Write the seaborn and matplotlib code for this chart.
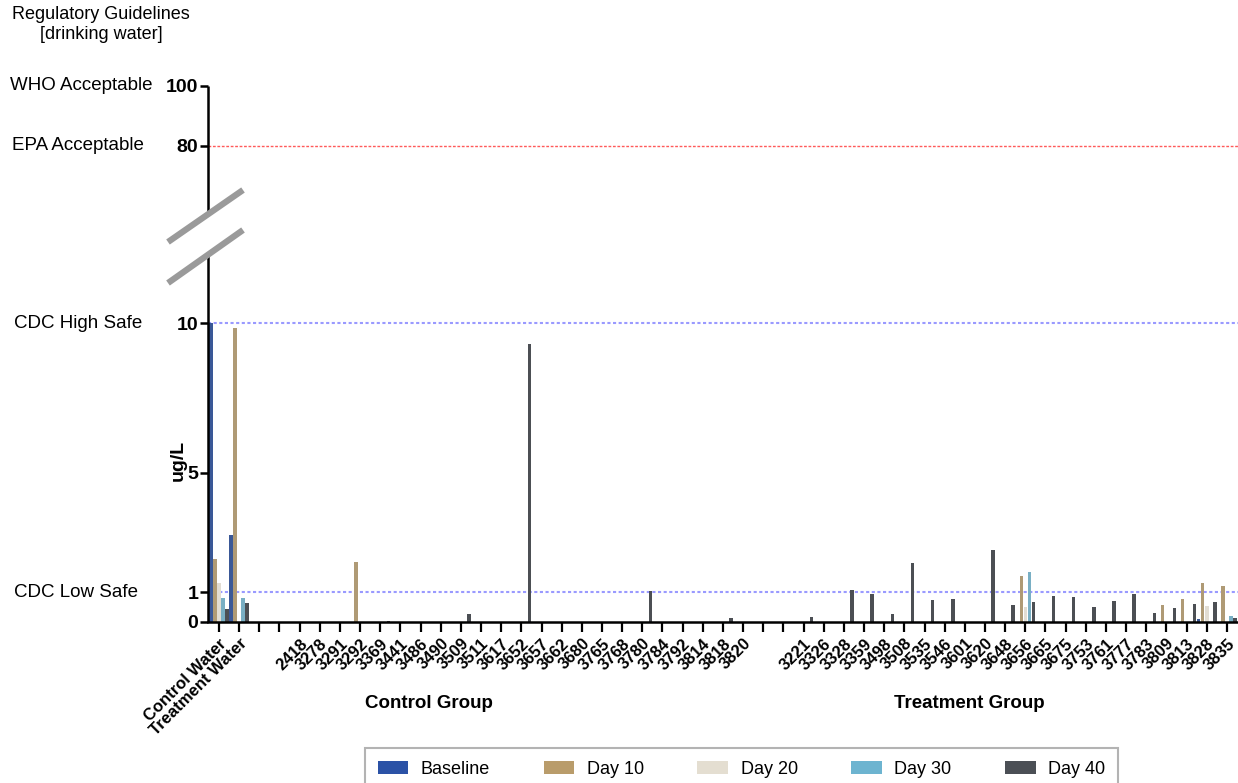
import numpy as np
import pandas as pd
import seaborn as sns
import matplotlib.pyplot as plt
import matplotlib.transforms as mtrans
from matplotlib.lines import Line2D
from matplotlib.patches import Patch

# ---------------- data ----------------
water_labels = ["Control Water", "Treatment Water"]
control_labels = ["2418", "3278", "3291", "3292", "3369", "3441", "3486", "3490",
                  "3509", "3511", "3617", "3652", "3657", "3662", "3680", "3765",
                  "3768", "3780", "3784", "3792", "3814", "3818", "3820"]
treatment_labels = ["3221", "3326", "3328", "3359", "3498", "3508", "3535", "3546",
                    "3601", "3620", "3648", "3656", "3665", "3675", "3753", "3761",
                    "3777", "3783", "3809", "3813", "3828", "3835"]
gap = ["", ""]
categories = water_labels + gap + control_labels + gap + treatment_labels

series_names = ["Baseline", "Day 10", "Day 20", "Day 30", "Day 40"]
series_colors = ["#2b52a6", "#b99c6b", "#e4ded1", "#6db4d0", "#4b4f55"]

# values (ug/L): water (2) | gap (2) | control (23) | gap (2) | treatment (22)
baseline = ([10.0, 2.9] + [0, 0] +
            [0, 0, 0, 0, 0, 0, 0, 0, 0, 0, 0, 0, 0, 0, 0, 0, 0, 0, 0, 0, 0, 0, 0] + [0, 0] +
            [0, 0, 0, 0, 0, 0, 0, 0, 0, 0, 0, 0, 0, 0, 0, 0, 0, 0, 0, 0, 0.1, 0])
day10 = ([2.1, 9.83] + [0, 0] +
         [0, 0, 0, 2.0, 0, 0, 0, 0, 0, 0, 0, 0, 0, 0, 0, 0, 0, 0, 0, 0, 0, 0, 0] + [0, 0] +
         [0, 0, 0, 0, 0, 0, 0, 0, 0, 0, 0, 1.53, 0, 0, 0, 0, 0, 0, 0.58, 0.77, 1.3, 1.19])
day20 = ([1.3, 0] + [0, 0] +
         [0, 0, 0, 0, 0, 0, 0, 0, 0, 0, 0, 0, 0, 0, 0, 0, 0, 0, 0, 0, 0, 0, 0] + [0, 0] +
         [0, 0, 0, 0, 0, 0, 0, 0, 0, 0, 0, 0.5, 0, 0, 0, 0, 0, 0, 0, 0, 0.55, 0])
day30 = ([0.8, 0.8] + [0, 0] +
         [0, 0, 0, 0, 0, 0, 0, 0, 0, 0, 0, 0, 0, 0, 0, 0, 0, 0, 0, 0, 0, 0, 0] + [0, 0] +
         [0, 0, 0, 0, 0, 0, 0, 0, 0, 0, 0, 1.66, 0, 0, 0, 0, 0, 0, 0, 0, 0, 0.19])
day40 = ([0.45, 0.63] + [0, 0] +
         [0, 0, 0, 0, 0.05, 0, 0, 0, 0.28, 0, 0, 9.3, 0, 0, 0, 0, 0, 1.05, 0, 0, 0, 0.15, 0] + [0, 0] +
         [0.17, 0, 1.06, 0.93, 0.28, 1.97, 0.72, 0.78, 0, 2.4, 0.58, 0.67, 0.87, 0.84,
          0.5, 0.71, 0.92, 0.31, 0.47, 0.61, 0.68, 0.15])

yticks = [0, 1, 5, 10, 80, 100]
guideline_values = [100, 80, 10, 1]
guideline_names = ["WHO Acceptable", "EPA Acceptable", "CDC High Safe", "CDC Low Safe"]

# ---------------- frame ----------------
cat_keys = [c if c else f"_gap{i}" for i, c in enumerate(categories)]
all_series = [baseline, day10, day20, day30, day40]
rows = []
for name, vals in zip(series_names, all_series):
    for k, v in zip(cat_keys, vals):
        rows.append({"sample": k, "series": name, "value": v})
df = pd.DataFrame(rows)

sns.set_theme(style="white")
plt.rcParams['font.family'] = ['Liberation Sans', 'DejaVu Sans']
plt.rcParams['text.color'] = 'black'
plt.rcParams['axes.labelcolor'] = 'black'
plt.rcParams['xtick.color'] = 'black'
plt.rcParams['ytick.color'] = 'black'

W, H = 1238, 783
fig = plt.figure(figsize=(W / 100, H / 100), dpi=100)
ax = fig.add_axes([208 / W, 1 - 622 / H, (W - 208) / W, 536 / H])

sns.barplot(data=df, x="sample", y="value", hue="series", order=cat_keys,
            hue_order=series_names, palette=series_colors, width=1.0, gap=0.12,
            linewidth=0, legend=False, errorbar=None, ax=ax)

# broken (piecewise linear) y scale
src = [0, 10, 80, 100]
dst = [0, 299, 476, 536]
fwd = lambda y: np.interp(np.asarray(y, dtype=float), src, dst)
inv = lambda t: np.interp(np.asarray(t, dtype=float), dst, src)
ax.set_yscale("function", functions=(fwd, inv))
ax.set_ylim(0, 100)
ax.set_xlim(-0.546, len(categories) - 0.45)

# guideline lines
ax.axhline(80, color="#ff5a5a", lw=1.0, ls=(0, (2, 1.2)), zorder=0)
ax.axhline(10, color="#9a9aff", lw=1.5, ls=(0, (1.5, 1.2)), zorder=0)
ax.axhline(1, color="#9a9aff", lw=1.5, ls=(0, (1.5, 1.2)), zorder=0)

# spines
for s in ["top", "right", "left"]:
    ax.spines[s].set_visible(False)
ax.spines["bottom"].set_linewidth(1.8)
ax.spines["bottom"].set_color("black")
ytr = ax.get_yaxis_transform()
ax.plot([0, 0], [0, 37], transform=ytr, color="black", lw=1.8, clip_on=False,
        solid_capstyle="butt")
ax.plot([0, 0], [53, 100], transform=ytr, color="black", lw=1.8, clip_on=False,
        solid_capstyle="butt")
# break marks
for y0, y1 in [(242, 190), (283, 230)]:
    fig.add_artist(Line2D([168 / W, 243 / W], [1 - y0 / H, 1 - y1 / H],
                          color="#9a9a9a", lw=4.5, solid_capstyle="butt"))

# ticks
ax.set_yticks(yticks)
ax.set_yticklabels([str(t) for t in yticks], fontweight="bold", fontsize=14)
ax.tick_params(axis="y", left=True, length=6, width=1.8, pad=1, color="black")
ax.set_xticks(range(len(categories)))
ax.set_xticklabels(categories, rotation=45, ha="right", rotation_mode="anchor",
                   fontweight="bold", fontsize=12)
ax.tick_params(axis="x", bottom=True, length=7, width=1.6, pad=3, color="black")
ax.set_xlabel("")
ax.set_ylabel("ug/L", fontweight="bold", fontsize=14)
ax.yaxis.set_label_coords(-0.021, 0.302)

# guideline names on the left
blend = mtrans.blended_transform_factory(fig.transFigure, ax.transData)
for val, name, xp in zip(guideline_values, guideline_names, [10, 12, 14, 14]):
    ax.text(xp / W, val, name, transform=blend, ha="left", va="center", fontsize=13.5,
            clip_on=False)
fig.text(101 / W, 1 - 6 / H, "Regulatory Guidelines\n[drinking water]", ha="center",
         va="top", fontsize=13, multialignment="center", linespacing=1.2)

# group labels
gblend = mtrans.blended_transform_factory(ax.transData, fig.transFigure)
ax.text(10.4, 1 - 704 / H, "Control Group", transform=gblend, ha="center", va="center",
        fontweight="bold", fontsize=13.5)
ax.text(37.2, 1 - 704 / H, "Treatment Group", transform=gblend, ha="center", va="center",
        fontweight="bold", fontsize=13.5)

# legend
handles = [Patch(facecolor=c, edgecolor="none") for c in series_colors]
leg = fig.legend(handles, series_names, loc="upper left",
                 bbox_to_anchor=(365 / W, 1 - 748 / H, 753 / W, 0), mode="expand",
                 borderaxespad=0, ncol=5, frameon=True, fontsize=13, handlelength=1.7,
                 handleheight=0.75, borderpad=0.7, fancybox=False,
                 edgecolor="#a0a0a0", handletextpad=0.7)
leg.get_frame().set_linewidth(1.5)

fig.savefig("out.png", dpi=100)
